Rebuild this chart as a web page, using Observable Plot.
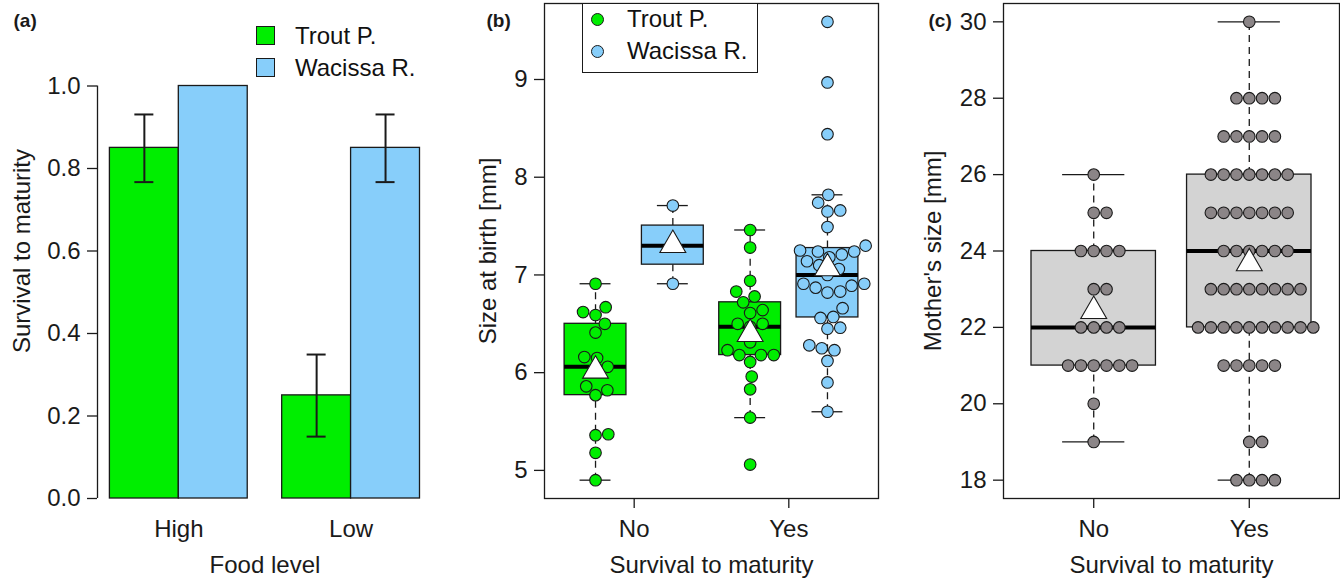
<!DOCTYPE html>
<html><head><meta charset="utf-8">
<script src="https://cdn.jsdelivr.net/npm/d3@7"></script>
<script src="https://cdn.jsdelivr.net/npm/@observablehq/plot@0.6"></script>
<style>
body{margin:0;background:#fff;}
#fig{position:relative;width:1340px;height:579px;overflow:hidden;font-family:"Liberation Sans",Arial,Helvetica,sans-serif;color:#111;}
#fig svg{position:absolute;top:0;}
.leg{position:absolute;font-size:24px;line-height:1;}
.row{position:absolute;left:0;display:flex;align-items:center;white-space:nowrap;}
.sw{box-sizing:border-box;border:1.3px solid #1a1a1a;flex:none;}
</style></head><body><div id="fig"></div>
<script>
// ---------------- data ----------------
// Panel (a)
const foodLevels = ["High", "Low"];
const populations = ["Trout P.", "Wacissa R."];
const popColors = ["#00ee00", "#87cefa"];
const troutSurvival = [0.85, 0.25];
const wacissaSurvival = [1.00, 0.85];
const troutLower = [0.767, 0.15];
const troutUpper = [0.931, 0.349];
const wacissaLower = [null, 0.767];
const wacissaUpper = [null, 0.931];
const survivalTicks = [0, 0.2, 0.4, 0.6, 0.8, 1.0];

// Panel (b) size at birth [mm]
const survivalCats = ["No", "Yes"];
const troutNoSize = [6.91, 6.67, 6.59, 6.62, 6.50, 6.41, 6.15, 6.16, 6.06, 6.02, 5.86, 5.82, 5.77, 5.36, 5.37, 5.18, 4.90];
const wacissaNoSize = [7.71, 7.30, 6.91];
const troutYesSize = [7.46, 7.28, 6.94, 6.83, 6.78, 6.72, 6.64, 6.61, 6.50, 6.50, 6.47, 6.31, 6.23, 6.18, 6.18, 6.18, 6.11, 5.96, 5.83, 5.54, 5.06];
const wacissaYesSize = [9.59, 8.97, 8.44, 7.82, 7.74, 7.66, 7.65, 7.49, 7.30, 7.25, 7.24, 7.24, 7.21, 7.18, 7.14, 7.10, 7.06, 7.00, 6.91, 6.91, 6.89, 6.87, 6.83, 6.82, 6.66, 6.57, 6.56, 6.46, 6.45, 6.28, 6.25, 6.23, 6.12, 5.90, 5.60];
const sizeTicks = [5, 6, 7, 8, 9];

// Panel (c) mother's size [mm]
const motherNo = [26, 25, 25, 24, 24, 24, 24, 23, 23, 22, 22, 22, 22, 21, 21, 21, 21, 21, 21, 20, 19];
const motherYes = [30, 28, 28, 28, 28, 27, 27, 27, 27, 27, 26, 26, 26, 26, 26, 26, 26,
  25, 25, 25, 25, 25, 25, 25, 24, 24, 24, 24, 24, 24, 23, 23, 23, 23, 23, 23, 23, 23,
  22, 22, 22, 22, 22, 22, 22, 22, 22, 22, 21, 21, 21, 21, 21, 19, 19, 18, 18, 18, 18];
const motherTicks = [18, 20, 22, 24, 26, 28, 30];
const motherColor = "#8b8587";
const motherBoxColor = "#d3d3d3";

// ---------------- layout ----------------
const H = 579, TOP = 3, BOTTOM = 498;
const FONT = "'Liberation Sans', Arial, Helvetica, sans-serif";
const FS = 24, INK = "#1a1a1a", LW = 1.3;
const style = {fontFamily: FONT, fontSize: FS + "px", color: INK, background: "transparent", overflow: "visible"};
const fig = document.getElementById("fig");

function fivenumStats(values) {
  const s = values.slice().sort((a, b) => a - b), n = s.length;
  const n4 = Math.floor((n + 3) / 2) / 2;
  const at = i => 0.5 * (s[Math.floor(i) - 1] + s[Math.ceil(i) - 1]);
  const q1 = at(n4), med = at((n + 1) / 2), q3 = at(n + 1 - n4), iqr = q3 - q1;
  return {q1, med, q3,
    lo: d3.min(s.filter(v => v >= q1 - 1.5 * iqr)),
    hi: d3.max(s.filter(v => v <= q3 + 1.5 * iqr)),
    mean: d3.mean(s)};
}
// beeswarm "swarm" placement (ascending priority, right side first)
function swarmOffsets(px, D) {
  const order = d3.range(px.length).sort((a, b) => px[a] - px[b] || a - b);
  const placed = [], off = [];
  for (const i of order) {
    const v = px[i];
    const near = placed.filter(p => Math.abs(p.v - v) < D);
    let x = 0;
    if (near.length) {
      const c = [0, ...near.map(p => p.x + Math.sqrt(D * D - (p.v - v) ** 2)),
                    ...near.map(p => p.x - Math.sqrt(D * D - (p.v - v) ** 2))];
      let best = Infinity;
      for (const cx of c) {
        const bad = near.some(p => (cx - p.x) ** 2 + (v - p.v) ** 2 < 0.999 * D * D);
        if (!bad && Math.abs(cx) < Math.abs(best) - 1e-9) best = cx;
      }
      x = best;
    }
    placed.push({v, x}); off[i] = x;
  }
  return off;
}
function place(svg, left) { svg.style.left = left + "px"; fig.appendChild(svg); }
function yTitle(t, dx) { return Plot.text([t], {frameAnchor: "left", dx, rotate: -90, textAnchor: "middle", lineAnchor: "middle", fontSize: FS, fill: INK}); }
function xTitle(t) { return Plot.text([t], {frameAnchor: "bottom", dy: 67, textAnchor: "middle", lineAnchor: "middle", fontSize: FS, fill: INK}); }
function tag(t, dx) { return Plot.text([t], {frameAnchor: "top-left", dx, dy: 17, textAnchor: "start", lineAnchor: "middle", fontSize: 19, fontWeight: "bold", fill: INK}); }

// ---------------- panel (a) ----------------
{
  const GAP = 0.5, nP = populations.length;
  const survival = [troutSurvival, wacissaSurvival], lower = [troutLower, wacissaLower], upper = [troutUpper, wacissaUpper];
  const bars = [];
  foodLevels.forEach((food, gi) => populations.forEach((pop, si) => {
    const x1 = gi * (nP + GAP) + si;
    bars.push({food, pop, x1, x2: x1 + 1, xc: x1 + 0.5, value: survival[si][gi], lo: lower[si][gi], hi: upper[si][gi], color: popColors[si]});
  }));
  const span = foodLevels.length * nP + (foodLevels.length - 1) * GAP, pad = 0.04 * span;
  const left = 97, plotW = 334.9, svgW = 440;
  const pxPerX = plotW / (span + 2 * pad), cap = 9.5 / pxPerX;
  const errs = bars.filter(d => d.lo != null);
  const centers = foodLevels.map((f, gi) => gi * (nP + GAP) + nP / 2);
  const svg = Plot.plot({
    width: svgW, height: H, marginLeft: left, marginRight: svgW - left - plotW, marginTop: TOP, marginBottom: H - BOTTOM,
    style, x: {domain: [-pad, span + pad]}, y: {domain: [0, 1.2]},
    marks: [
      Plot.rect(bars, {x1: "x1", x2: "x2", y1: 0, y2: "value", fill: "color", stroke: INK, strokeWidth: LW}),
      Plot.ruleX(errs, {x: "xc", y1: "lo", y2: "hi", stroke: INK, strokeWidth: 2}),
      Plot.ruleY(errs, {y: "lo", x1: d => d.xc - cap, x2: d => d.xc + cap, stroke: INK, strokeWidth: 2}),
      Plot.ruleY(errs, {y: "hi", x1: d => d.xc - cap, x2: d => d.xc + cap, stroke: INK, strokeWidth: 2}),
      Plot.ruleX([-pad], {y1: survivalTicks[0], y2: survivalTicks[survivalTicks.length - 1], stroke: INK, strokeWidth: LW}),
      Plot.axisY({ticks: survivalTicks, tickFormat: d3.format(".1f"), tickSize: 10, tickPadding: 7, fontSize: FS, stroke: INK, strokeWidth: LW, label: null}),
      Plot.axisX({ticks: centers, tickFormat: d => foodLevels[centers.indexOf(d)], tickSize: 0, tickPadding: 21, fontSize: FS, label: null}),
      yTitle("Survival to maturity", -75),
      xTitle("Food level"),
      tag("(a)", -84)
    ]
  });
  place(svg, 0);
  const leg = document.createElement("div");
  leg.className = "leg"; leg.style.left = "256px"; leg.style.top = "26px";
  populations.forEach((p, i) => {
    const r = document.createElement("div");
    r.className = "row"; r.style.top = (i * 32) + "px"; r.style.height = "19px";
    r.innerHTML = `<div class="sw" style="width:19px;height:19px;background:${popColors[i]}"></div><span style="margin-left:20px">${p}</span>`;
    leg.appendChild(r);
  });
  fig.appendChild(leg);
}

// ---------- helper for box + swarm panels ----------
function boxPanel({groups, svgLeft, svgW, left, plotW, ticks, tickPos, tickLabels, yLabel, yTitleDx, tagText, tagDx}) {
  const n = groups.length;
  const xDom = [0.5 - 0.04 * n, n + 0.5 + 0.04 * n];
  const all = groups.flatMap(g => g.values);
  const [mn, mx] = d3.extent(all), yPad = 0.04 * (mx - mn);
  const yDom = [mn - yPad, mx + yPad];
  const pxPerX = plotW / (xDom[1] - xDom[0]), pxPerY = (BOTTOM - TOP) / (yDom[1] - yDom[0]);
  const D = 12.8;
  const stats = groups.map((g, i) => ({...fivenumStats(g.values), pos: i + 1, fill: g.boxFill}));
  const pts = groups.flatMap((g, i) => {
    const off = swarmOffsets(g.values.map(v => v * pxPerY), D);
    return g.values.map((v, j) => ({value: v, x: i + 1 + off[j] / pxPerX, fill: g.dotFill}));
  });
  const svg = Plot.plot({
    width: svgW, height: H, marginLeft: left, marginRight: svgW - left - plotW, marginTop: TOP, marginBottom: H - BOTTOM,
    style, x: {domain: xDom}, y: {domain: yDom},
    marks: [
      Plot.ruleX(stats, {x: "pos", y1: "q3", y2: "hi", stroke: INK, strokeWidth: LW, strokeDasharray: "7,5"}),
      Plot.ruleX(stats, {x: "pos", y1: "lo", y2: "q1", stroke: INK, strokeWidth: LW, strokeDasharray: "7,5"}),
      Plot.ruleY(stats, {y: "hi", x1: d => d.pos - 0.2, x2: d => d.pos + 0.2, stroke: INK, strokeWidth: LW}),
      Plot.ruleY(stats, {y: "lo", x1: d => d.pos - 0.2, x2: d => d.pos + 0.2, stroke: INK, strokeWidth: LW}),
      Plot.rect(stats, {x1: d => d.pos - 0.4, x2: d => d.pos + 0.4, y1: "q1", y2: "q3", fill: "fill", stroke: INK, strokeWidth: LW}),
      Plot.ruleY(stats, {y: "med", x1: d => d.pos - 0.4, x2: d => d.pos + 0.4, stroke: "#000", strokeWidth: 4}),
      Plot.dot(pts, {x: "x", y: "value", r: 5.8, fill: "fill", stroke: INK, strokeWidth: 1.1}),
      Plot.dot(stats, {x: "pos", y: "mean", symbol: "triangle", r: 9.6, fill: "white", stroke: INK, strokeWidth: 1.1}),
      Plot.frame({stroke: INK, strokeWidth: LW}),
      Plot.axisY({ticks, tickFormat: d3.format("d"), tickSize: 10, tickPadding: 7, fontSize: FS, stroke: INK, strokeWidth: LW, label: null}),
      Plot.axisX({ticks: tickPos, tickFormat: d => tickLabels[tickPos.indexOf(d)], tickSize: 10, tickPadding: 11, fontSize: FS, stroke: INK, strokeWidth: LW, label: null}),
      yTitle(yLabel, yTitleDx),
      xTitle("Survival to maturity"),
      tag(tagText, tagDx)
    ]
  });
  place(svg, svgLeft);
}

// ---------------- panel (b) ----------------
boxPanel({
  groups: [
    {values: troutNoSize, boxFill: popColors[0], dotFill: popColors[0]},
    {values: wacissaNoSize, boxFill: popColors[1], dotFill: popColors[1]},
    {values: troutYesSize, boxFill: popColors[0], dotFill: popColors[0]},
    {values: wacissaYesSize, boxFill: popColors[1], dotFill: popColors[1]}
  ],
  svgLeft: 440, svgW: 450, left: 104, plotW: 334,
  ticks: sizeTicks, tickPos: [1.5, 3.5], tickLabels: survivalCats,
  yLabel: "Size at birth [mm]", yTitleDx: -56, tagText: "(b)", tagDx: -58
});
{
  const leg = document.createElement("div");
  leg.className = "leg";
  Object.assign(leg.style, {left: "582px", top: "3px", width: "176px", height: "70px", border: `${LW}px solid ${INK}`, boxSizing: "border-box", background: "#fff"});
  populations.forEach((p, i) => {
    const r = document.createElement("div");
    r.className = "row"; r.style.top = (i * 32 + 8) + "px"; r.style.left = "8px"; r.style.height = "14px";
    r.innerHTML = `<div class="sw" style="width:13px;height:13px;border-radius:50%;background:${popColors[i]}"></div><span style="margin-left:23px">${p}</span>`;
    leg.appendChild(r);
  });
  fig.appendChild(leg);
}

// ---------------- panel (c) ----------------
boxPanel({
  groups: [
    {values: motherNo, boxFill: motherBoxColor, dotFill: motherColor},
    {values: motherYes, boxFill: motherBoxColor, dotFill: motherColor}
  ],
  svgLeft: 890, svgW: 450, left: 113, plotW: 336,
  ticks: motherTicks, tickPos: [1, 2], tickLabels: survivalCats,
  yLabel: "Mother's size [mm]", yTitleDx: -70, tagText: "(c)", tagDx: -75
});
</script></body></html>
